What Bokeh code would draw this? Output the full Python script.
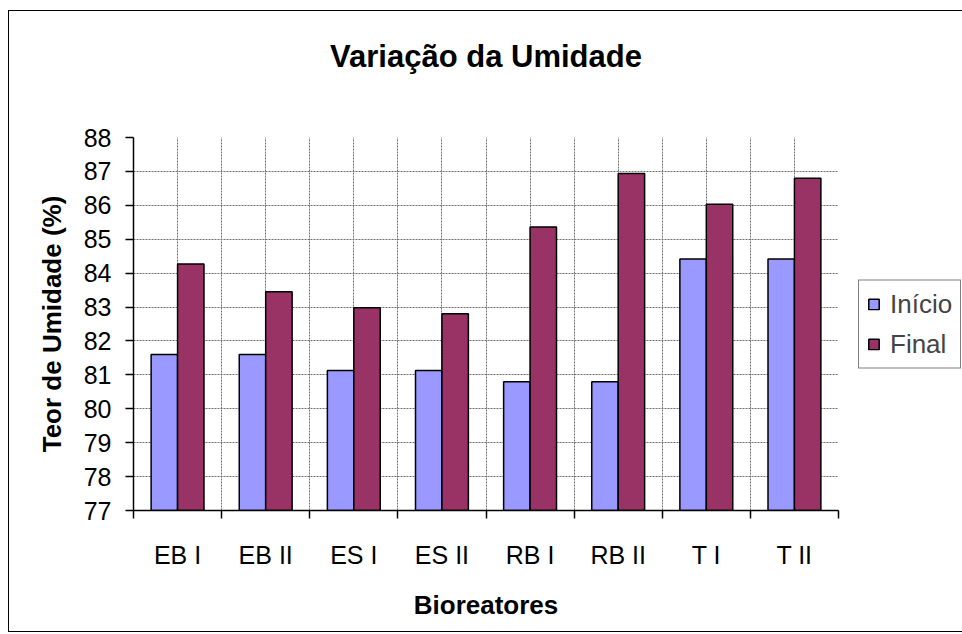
from bokeh.plotting import figure
from bokeh.models import (Range1d, FixedTicker, Legend, LegendItem,
                          ColumnDataSource, Title)
from bokeh.transform import dodge
from bokeh.embed import file_html
from bokeh.resources import INLINE

categories = ["EB I", "EB II", "ES I", "ES II", "RB I", "RB II", "T I", "T II"]
inicio = [81.6, 81.6, 81.13, 81.13, 80.8, 80.8, 84.42, 84.42]
final = [84.27, 83.45, 82.98, 82.8, 85.36, 86.94, 86.03, 86.8]
y_ticks = list(range(77, 89))
series_names = ["Início", "Final"]
series_colors = ["#9999FF", "#993366"]

FONT = "Liberation Sans"

centers = [i + 0.5 for i in range(len(categories))]
bounds = [float(i) for i in range(len(categories) + 1)]

src = ColumnDataSource(dict(x=centers, inicio=inicio, final=final))

p = figure(output_backend="svg", toolbar_location=None,
           frame_width=705, frame_height=373,
           min_border_left=124, min_border_right=122,
           min_border_top=126, min_border_bottom=121,
           x_range=Range1d(0, len(categories)), y_range=Range1d(77, 88),
           tools="", title="Variação da Umidade")
p.styles = {"border": "1px solid black", "margin-left": "8px", "margin-top": "10px"}
p.outline_line_color = None
p.background_fill_color = "white"
p.border_fill_color = "white"

p.title.align = "center"
p.title.vertical_align = "top"
p.title.offset = 5
p.title.text_font = FONT
p.title.text_font_style = "bold"
p.title.text_font_size = "31px"
p.title.text_color = "black"
p.title.standoff = 50

# empty spacer between the title and the plot area
p.add_layout(Title(text=" ", text_font_size="10px", standoff=24), "above")

r1 = p.vbar(x=dodge("x", -0.15), top="inicio", bottom=77, width=0.3, source=src,
            fill_color=series_colors[0], line_color="black", line_width=1.5)
r2 = p.vbar(x=dodge("x", 0.15), top="final", bottom=77, width=0.3, source=src,
            fill_color=series_colors[1], line_color="black", line_width=1.5)

# x axis
xt = FixedTicker(ticks=centers, minor_ticks=bounds)
xa = p.xaxis[0]
xa.ticker = xt
xa.major_label_overrides = {c: lab for c, lab in zip(centers, categories)}
xa.major_tick_line_color = None
xa.minor_tick_line_color = "black"
xa.minor_tick_out = 8
xa.minor_tick_in = 0
xa.minor_tick_line_width = 1.5
xa.axis_line_width = 1.5
xa.axis_line_color = "black"
xa.major_label_text_font = FONT
xa.major_label_text_font_size = "25px"
xa.major_label_text_color = "black"
xa.major_label_standoff = 22
xa.axis_label = "Bioreatores"
xa.axis_label_text_font = FONT
xa.axis_label_text_font_style = "bold"
xa.axis_label_text_font_size = "26px"
xa.axis_label_text_color = "black"
xa.axis_label_standoff = 18

# y axis
ya = p.yaxis[0]
ya.ticker = FixedTicker(ticks=y_ticks, minor_ticks=[])
ya.major_tick_out = 8
ya.major_tick_in = 0
ya.major_tick_line_width = 1.5
ya.axis_line_width = 1.5
ya.axis_line_color = "black"
ya.major_label_text_font = FONT
ya.major_label_text_font_size = "25px"
ya.major_label_text_color = "black"
ya.major_label_standoff = 14
ya.axis_label = "Teor de Umidade (%)"
ya.axis_label_text_font = FONT
ya.axis_label_text_font_style = "bold"
ya.axis_label_text_font_size = "26px"
ya.axis_label_text_color = "black"
ya.axis_label_standoff = 14

# grids
for g in (p.xgrid, p.ygrid):
    g.grid_line_color = "#707070"
    g.grid_line_dash = "2 1"
p.xgrid.minor_grid_line_color = "#707070"
p.xgrid.minor_grid_line_dash = "2 1"

legend = Legend(items=[LegendItem(label=series_names[0], renderers=[r1]),
                       LegendItem(label=series_names[1], renderers=[r2])],
                location="center_left", margin=20,
                border_line_color="black", border_line_width=1,
                background_fill_color="white", background_fill_alpha=1,
                label_text_font=FONT, label_text_font_size="26px",
                glyph_width=13, glyph_height=13, label_standoff=10,
                padding=8, spacing=9, label_height=30)
p.add_layout(legend, "right")

open("out.html", "w").write(file_html(p, INLINE))
